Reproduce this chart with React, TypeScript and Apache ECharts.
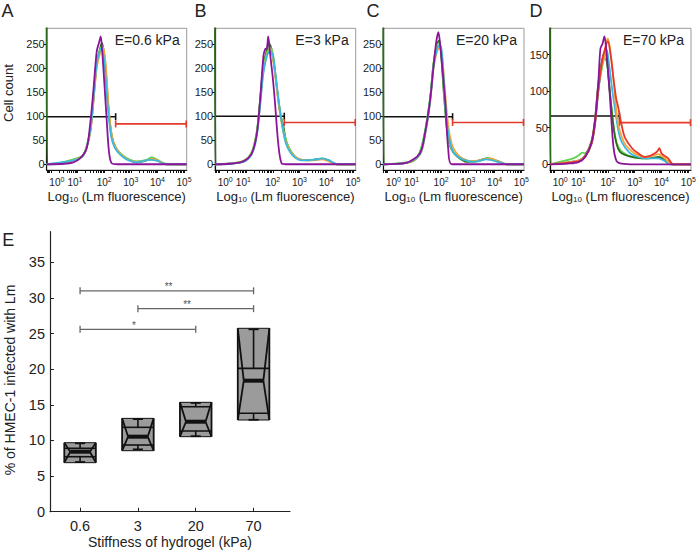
import React, { useEffect, useRef } from "react";
import * as echarts from "echarts";

const FONT = "Liberation Sans, Arial, sans-serif";

// ---------- Panels A–D (flow cytometry histograms) ----------
const panelLetters = ["A", "B", "C", "D"];
const panelTitles = ["E=0.6 kPa", "E=3 kPa", "E=20 kPa", "E=70 kPa"];
const decadeTicks = [0, 1, 2, 3, 4, 5];
const decadeLabelPos = [0.22, 0.9, 2, 3, 4, 5];
const countTicksABC = [0, 50, 100, 150, 200, 250];
const countTicksD = [0, 50, 100, 150];
const yMins = [-12, -12, -12, -7.8];
const yMaxes = [283, 283, 283, 186];
const gateX = 2.43;
const gateBlackY = [99, 100, 99, 66];
const gateRedY = [84, 87, 87, 57];

const A_purple = [[-0.16, 0], [0.5, 1], [0.84, 4], [1.09, 12], [1.34, 33], [1.47, 82], [1.59, 151], [1.72, 235], [1.8, 252], [1.87, 266], [1.92, 238], [1.97, 200], [2.09, 96], [2.18, 26], [2.28, 2], [2.5, 0], [5.1, 0]];
const A_darkGreen = [[-0.16, 290], [-0.14, 0], [0.34, 2], [0.84, 9], [1.22, 19], [1.47, 66], [1.59, 130], [1.72, 208], [1.85, 242], [1.92, 252], [2.03, 214], [2.16, 117], [2.28, 61], [2.41, 37], [2.59, 23], [2.84, 12], [3.22, 4], [3.55, 7], [3.75, 12], [3.97, 9], [4.35, 0], [5.1, 0]];
const A_lightGreen = [[-0.16, 0], [0.34, 3], [0.84, 10], [1.22, 20], [1.47, 70], [1.59, 135], [1.72, 212], [1.85, 240], [1.93, 246], [2.03, 210], [2.16, 112], [2.28, 58], [2.41, 35], [2.59, 24], [2.84, 13], [3.22, 6], [3.6, 9], [3.78, 14], [3.97, 10], [4.3, 1], [5.1, 0]];
const A_orange = [[-0.16, 0], [0.5, 3], [0.84, 8], [1.22, 18], [1.47, 64], [1.59, 126], [1.72, 200], [1.85, 232], [1.95, 244], [2.05, 212], [2.18, 110], [2.3, 55], [2.45, 33], [2.6, 22], [2.84, 11], [3.22, 5], [3.6, 8], [3.8, 11], [4.0, 8], [4.35, 0], [5.1, 0]];
const A_cyan = [[-0.16, 0], [0.84, 8], [1.22, 18], [1.47, 68], [1.59, 132], [1.72, 210], [1.85, 238], [1.9, 242], [2.0, 215], [2.14, 118], [2.26, 58], [2.4, 34], [2.6, 20], [2.84, 10], [3.22, 4], [3.7, 9], [4.0, 7], [4.3, 0], [5.1, 0]];

const B_purple = [[-0.16, 0], [0.4, 1], [0.9, 6], [1.21, 22], [1.4, 62], [1.52, 130], [1.65, 225], [1.72, 240], [1.78, 242], [1.83, 266], [1.9, 230], [2.0, 180], [2.08, 130], [2.21, 40], [2.33, 2], [2.5, 0], [5.1, 0]];
const B_darkGreen = [[-0.16, 290], [-0.14, 0], [0.4, 1], [0.9, 6], [1.21, 23], [1.4, 65], [1.52, 130], [1.65, 205], [1.78, 238], [1.88, 250], [1.98, 232], [2.1, 185], [2.21, 134], [2.3, 100], [2.4, 78], [2.52, 44], [2.77, 19], [3.0, 10], [3.3, 8], [3.6, 10], [3.9, 11], [4.1, 8], [4.4, 0], [5.1, 0]];
const B_lightGreen = [[-0.16, 0], [0.4, 2], [0.9, 7], [1.21, 25], [1.4, 68], [1.52, 128], [1.65, 200], [1.78, 232], [1.92, 242], [2.02, 225], [2.12, 175], [2.23, 125], [2.35, 85], [2.45, 60], [2.6, 35], [2.8, 18], [3.1, 9], [3.5, 9], [3.85, 12], [4.1, 7], [4.4, 0], [5.1, 0]];
const B_orange = [[-0.16, 0], [0.6, 3], [0.9, 6], [1.21, 22], [1.4, 62], [1.52, 122], [1.65, 195], [1.78, 228], [1.9, 238], [2.0, 222], [2.12, 170], [2.23, 120], [2.35, 80], [2.5, 45], [2.75, 20], [3.1, 9], [3.5, 8], [3.85, 10], [4.2, 4], [4.4, 0], [5.1, 0]];
const B_cyan = [[-0.16, 0], [0.9, 5], [1.21, 20], [1.4, 58], [1.52, 118], [1.65, 190], [1.78, 225], [1.9, 235], [2.0, 228], [2.12, 178], [2.23, 128], [2.35, 82], [2.5, 42], [2.75, 18], [3.1, 8], [3.5, 9], [3.85, 12], [4.1, 8], [4.4, 0], [5.1, 0]];

const C_purple = [[-0.16, 0], [0.7, 3], [1.21, 23], [1.4, 65], [1.59, 134], [1.72, 205], [1.82, 255], [1.9, 275], [1.98, 240], [2.08, 180], [2.15, 134], [2.27, 30], [2.4, 0], [5.1, 0]];
const C_darkGreen = [[-0.16, 290], [-0.14, 0], [0.7, 3], [1.0, 8], [1.21, 24], [1.4, 66], [1.59, 136], [1.72, 210], [1.85, 250], [1.93, 258], [2.0, 230], [2.1, 150], [2.21, 78], [2.3, 45], [2.4, 30], [2.58, 17], [2.96, 5], [3.3, 6], [3.7, 12], [4.1, 7], [4.45, 0], [5.1, 0]];
const C_lightGreen = [[-0.16, 0], [0.7, 4], [1.0, 9], [1.21, 26], [1.4, 70], [1.59, 138], [1.72, 212], [1.85, 248], [1.93, 252], [2.02, 225], [2.12, 140], [2.23, 70], [2.33, 40], [2.45, 26], [2.6, 18], [2.96, 8], [3.4, 6], [3.75, 13], [4.1, 6], [4.45, 0], [5.1, 0]];
const C_orange = [[-0.16, 0], [0.7, 3], [1.21, 20], [1.4, 60], [1.59, 128], [1.72, 200], [1.85, 235], [1.97, 245], [2.05, 220], [2.15, 150], [2.28, 75], [2.4, 42], [2.55, 25], [2.8, 12], [3.2, 6], [3.6, 10], [3.85, 12], [4.2, 4], [4.45, 0], [5.1, 0]];
const C_cyan = [[-0.16, 0], [0.7, 3], [1.21, 21], [1.4, 62], [1.59, 130], [1.72, 205], [1.85, 240], [1.95, 248], [2.02, 238], [2.12, 160], [2.23, 80], [2.35, 42], [2.5, 22], [2.8, 10], [3.2, 5], [3.7, 10], [4.1, 5], [4.45, 0], [5.1, 0]];

const D_purple = [[-0.16, 0], [0.5, 1], [0.9, 3], [1.15, 10], [1.39, 30], [1.52, 60], [1.64, 110], [1.72, 158], [1.8, 165], [1.87, 175], [1.93, 160], [2.0, 130], [2.08, 90], [2.14, 55], [2.22, 20], [2.33, 4], [2.5, 1], [3.0, 0], [5.1, 0]];
const D_red = [[-0.16, 0], [0.9, 4], [1.15, 10], [1.39, 28], [1.52, 55], [1.64, 100], [1.77, 138], [1.89, 158], [2.0, 168], [2.1, 150], [2.2, 120], [2.3, 92], [2.39, 77], [2.52, 52], [2.64, 36], [2.9, 22], [3.13, 15], [3.38, 10], [3.6, 12], [3.75, 15], [3.85, 18], [3.92, 22], [4.0, 15], [4.25, 8], [4.44, 0], [5.1, 0]];
const D_orange = [[-0.16, 0], [0.9, 5], [1.15, 11], [1.39, 30], [1.52, 58], [1.64, 105], [1.77, 135], [1.89, 150], [1.95, 168], [2.0, 172], [2.08, 158], [2.17, 130], [2.26, 95], [2.35, 62], [2.45, 45], [2.6, 30], [2.76, 22], [3.0, 15], [3.38, 10], [3.7, 12], [3.88, 14], [4.13, 8], [4.4, 0], [5.1, 0]];
const D_cyan = [[-0.16, 0], [0.9, 5], [1.15, 10], [1.39, 28], [1.52, 55], [1.64, 100], [1.77, 135], [1.89, 152], [1.95, 157], [2.05, 135], [2.15, 105], [2.26, 77], [2.38, 48], [2.51, 31], [2.8, 16], [3.13, 10], [3.5, 8], [3.88, 8], [4.1, 5], [4.3, 0], [5.1, 0]];
const D_darkGreen = [[-0.16, 190], [-0.14, 0], [0.9, 5], [1.15, 12], [1.39, 32], [1.52, 62], [1.64, 110], [1.77, 140], [1.89, 155], [1.97, 140], [2.07, 100], [2.2, 54], [2.32, 28], [2.45, 17], [2.7, 12], [2.9, 10], [3.38, 8], [3.7, 9], [3.88, 10], [4.05, 8], [4.25, 4], [4.4, 0], [5.1, 0]];
const D_lightGreen = [[-0.16, 0], [0.7, 8], [0.9, 12], [1.05, 16], [1.15, 15], [1.39, 30], [1.52, 58], [1.64, 100], [1.77, 130], [1.89, 145], [1.97, 138], [2.07, 100], [2.2, 56], [2.32, 30], [2.5, 18], [2.9, 10], [3.4, 8], [3.9, 9], [4.3, 2], [4.4, 0], [5.1, 0]];

const COLORS: Record<string, string> = {
  darkGreen: "#2e6a1c",
  lightGreen: "#5fd44f",
  orange: "#f4a43e",
  cyan: "#3bb8e0",
  red: "#e8382b",
  purple: "#8b1499",
};

const panelSeries: Array<Array<[string, number[][]]>> = [
  [["darkGreen", A_darkGreen], ["lightGreen", A_lightGreen], ["orange", A_orange], ["cyan", A_cyan], ["purple", A_purple]],
  [["darkGreen", B_darkGreen], ["lightGreen", B_lightGreen], ["orange", B_orange], ["cyan", B_cyan], ["purple", B_purple]],
  [["darkGreen", C_darkGreen], ["lightGreen", C_lightGreen], ["orange", C_orange], ["cyan", C_cyan], ["purple", C_purple]],
  [["lightGreen", D_lightGreen], ["darkGreen", D_darkGreen], ["cyan", D_cyan], ["orange", D_orange], ["red", D_red], ["purple", D_purple]],
];

// ---------- Panel E (notched box plots) ----------
const stiffness = ["0.6", "3", "20", "70"];
const boxLow = [6.88, 8.56, 10.53, 12.87];
const boxQ1 = [7.72, 9.36, 11.32, 13.81];
const boxMedian = [8.42, 10.53, 12.63, 18.39];
const boxQ3 = [8.9, 11.84, 14.74, 20.12];
const boxHigh = [9.68, 13.1, 15.35, 25.74];
const whiskerLow = [6.97, 8.75, 10.6, 12.9];
const whiskerHigh = [9.6, 13.0, 15.27, 25.6];
const percentTicks = [0, 5, 10, 15, 20, 25, 30, 35];

const bracketFrom = [1, 2, 1];
const bracketTo = [4, 4, 3];
const bracketY = [31.0, 28.5, 25.6];
const bracketLabel = ["**", "**", "*"];
const bracketLabelX = [2.53, 2.85, 1.93];

// geometry
const panelLeft = [46.7, 215, 383.3, 550];
const panelWidth = [140, 140.7, 140.7, 141];
const panelTop = 28.3;
const panelHeight = 141.7;

function buildOption(): any {
  const xTickPos: number[] = [];
  for (let d = -1; d <= 5; d++) {
    for (let k = 1; k <= 9; k++) {
      const v = d + Math.log10(k);
      if (v >= -0.16 && v <= 5.1) xTickPos.push(+v.toFixed(4));
    }
  }

  const grid: any[] = [];
  const xAxis: any[] = [];
  const yAxis: any[] = [];
  const series: any[] = [];
  const graphic: any[] = [];

  const txt = (text: string, x: number, y: number, size: number, opts: any = {}) => ({
    type: "text",
    x,
    y,
    rotation: opts.rotation || 0,
    silent: true,
    style: {
      text,
      fontSize: size,
      fontFamily: FONT,
      fill: opts.fill || "#222",
      align: opts.align || "center",
      textAlign: opts.align || "center",
      verticalAlign: "middle",
      textVerticalAlign: "middle",
    },
  });

  for (let i = 0; i < 4; i++) {
    grid.push({
      left: panelLeft[i],
      top: panelTop,
      width: panelWidth[i],
      height: panelHeight,
      show: true,
      borderColor: "#9a9a9a",
      borderWidth: 1,
      backgroundColor: "transparent",
    });
    xAxis.push({
      type: "value",
      gridIndex: i,
      min: -0.16,
      max: 5.1,
      axisLine: { show: true, onZero: false, lineStyle: { color: "#111", width: 1.2 } },
      axisTick: { show: true, customValues: xTickPos, length: 3, lineStyle: { color: "#111" } },
      axisLabel: {
        customValues: decadeLabelPos,
        hideOverlap: false,
        showMinLabel: true,
        showMaxLabel: true,
        fontSize: 10,
        fontFamily: FONT,
        color: "#222",
        margin: 6,
        formatter: (v: number) => {
          const idx = decadeLabelPos.findIndex((p) => Math.abs(p - v) < 1e-6);
          return idx >= 0 ? `10{sup|${decadeTicks[idx]}}` : "";
        },
        rich: { sup: { fontSize: 7, fontFamily: FONT, color: "#222", padding: [0, 0, 6, 0] } },
      },
      splitLine: { show: false },
      name: "Log{sub|10} (Lm fluorescence)",
      nameLocation: "middle",
      nameGap: 19,
      nameTextStyle: {
        fontSize: 13,
        fontFamily: FONT,
        color: "#222",
        rich: { sub: { fontSize: 8, fontFamily: FONT, color: "#222", padding: [6, 0, 0, 0] } },
      },
    });
    const ticks = i === 3 ? countTicksD : countTicksABC;
    yAxis.push({
      type: "value",
      gridIndex: i,
      min: yMins[i],
      max: yMaxes[i],
      axisLine: { show: true, onZero: false, lineStyle: { color: "#111", width: 1.2 } },
      axisTick: { show: true, customValues: ticks, length: 3, lineStyle: { color: "#111" } },
      axisLabel: { customValues: ticks, fontSize: 11, fontFamily: FONT, color: "#222", margin: 2 },
      splitLine: { show: false },
    });

    panelSeries[i].forEach(([name, data]) => {
      series.push({
        type: "line",
        xAxisIndex: i,
        yAxisIndex: i,
        data,
        symbol: "none",
        smooth: 0.3,
        clip: true,
        silent: true,
        lineStyle: { color: COLORS[name], width: 1.8 },
      });
    });

    series.push({
      type: "custom",
      xAxisIndex: i,
      yAxisIndex: i,
      silent: true,
      data: [
        [-0.16, gateX, gateBlackY[i]],
        [gateX, 5.1, gateRedY[i]],
      ],
      renderItem: (params: any, api: any) => {
        const y = api.value(2);
        const p1 = api.coord([api.value(0), y]);
        const p2 = api.coord([api.value(1), y]);
        const black = params.dataIndex === 0;
        const color = black ? "#111" : "#e23a2c";
        const st = { stroke: color, lineWidth: 1.6 };
        const children: any[] = [
          { type: "line", shape: { x1: p1[0], y1: p1[1], x2: p2[0], y2: p2[1] }, style: st },
        ];
        if (black) {
          children.push({ type: "line", shape: { x1: p2[0], y1: p2[1] - 3.5, x2: p2[0], y2: p2[1] + 3.5 }, style: st });
        } else {
          children.push({ type: "line", shape: { x1: p1[0], y1: p1[1] - 3.5, x2: p1[0], y2: p1[1] + 3.5 }, style: st });
          children.push({ type: "line", shape: { x1: p2[0] - 0.5, y1: p2[1] - 3.5, x2: p2[0] - 0.5, y2: p2[1] + 3.5 }, style: st });
        }
        return { type: "group", children };
      },
    });

    graphic.push(txt(panelTitles[i], panelLeft[i] + panelWidth[i] - 7, 39.5, 14, { align: "right" }));
  }

  graphic.push(txt(panelLetters[0], 7.5, 11, 18));
  graphic.push(txt(panelLetters[1], 200.5, 11, 18));
  graphic.push(txt(panelLetters[2], 373, 11, 18));
  graphic.push(txt(panelLetters[3], 536, 11, 18));
  graphic.push(txt("Cell count", 8.5, 93, 13, { rotation: Math.PI / 2 }));

  // Panel E
  grid.push({ left: 50, top: 231.7, width: 240, height: 280, show: false });
  xAxis.push({
    type: "value",
    gridIndex: 4,
    min: 0.48,
    max: 4.63,
    axisLine: { show: true, onZero: false, lineStyle: { color: "#222", width: 1.2 } },
    axisTick: { show: true, inside: true, customValues: [1, 2, 3, 4], length: 4, lineStyle: { color: "#222" } },
    axisLabel: {
      customValues: [1, 2, 3, 4],
      fontSize: 14.5,
      fontFamily: FONT,
      color: "#222",
      margin: 7,
      formatter: (v: number) => stiffness[Math.round(v) - 1] ?? "",
    },
    splitLine: { show: false },
  });
  yAxis.push({
    type: "value",
    gridIndex: 4,
    min: 0,
    max: 39.3,
    axisLine: { show: true, onZero: false, lineStyle: { color: "#222", width: 1.2 } },
    axisTick: { show: true, inside: true, customValues: percentTicks, length: 4, lineStyle: { color: "#222" } },
    axisLabel: { customValues: percentTicks, fontSize: 14.5, fontFamily: FONT, color: "#222", margin: 5 },
    splitLine: { show: false },
  });

  series.push({
    type: "custom",
    xAxisIndex: 4,
    yAxisIndex: 4,
    silent: true,
    data: stiffness.map((_, i) => [i + 1, boxLow[i], boxQ1[i], boxMedian[i], boxQ3[i], boxHigh[i], whiskerLow[i], whiskerHigh[i]]),
    renderItem: (params: any, api: any) => {
      const x = api.value(0);
      const Y = (v: number) => api.coord([x, v])[1];
      const cx = api.coord([x, 0])[0];
      const yLo = Y(api.value(1));
      const yQ1 = Y(api.value(2));
      const yMed = Y(api.value(3));
      const yQ3 = Y(api.value(4));
      const yHi = Y(api.value(5));
      const yWlo = Y(api.value(6));
      const yWhi = Y(api.value(7));
      const hw = api.size([0.273, 0])[0];
      const inset = hw * 0.38;
      const cap = hw * 0.32;
      const L = cx - hw;
      const R = cx + hw;
      const ln = (x1: number, y1: number, x2: number, y2: number, w: number) => ({
        type: "line",
        shape: { x1, y1, x2, y2 },
        style: { stroke: "#111", lineWidth: w },
      });
      return {
        type: "group",
        children: [
          { type: "rect", shape: { x: L, y: yHi, width: 2 * hw, height: yLo - yHi }, style: { fill: "#9b9b9b" } },
          ln(L, yHi, L, yLo, 1.8),
          ln(R, yHi, R, yLo, 1.8),
          ln(L, yHi, R, yHi, 1),
          ln(L, yLo, R, yLo, 1),
          ln(L, yQ3, R, yQ3, 1.6),
          ln(L, yQ1, R, yQ1, 1.6),
          ln(L, yHi, L + inset, yMed, 1.8),
          ln(R, yHi, R - inset, yMed, 1.8),
          ln(L, yLo, L + inset, yMed, 1.8),
          ln(R, yLo, R - inset, yMed, 1.8),
          ln(L + inset, yMed, R - inset, yMed, 4),
          ln(cx, yWhi, cx, yQ3, 1.6),
          ln(cx, yQ1, cx, yWlo, 1.6),
          ln(cx - cap, yWhi, cx + cap, yWhi, 1.8),
          ln(cx - cap, yWlo, cx + cap, yWlo, 1.8),
        ],
      };
    },
  });

  series.push({
    type: "custom",
    xAxisIndex: 4,
    yAxisIndex: 4,
    silent: true,
    data: bracketFrom.map((f, i) => [f, bracketTo[i], bracketY[i]]),
    renderItem: (params: any, api: any) => {
      const i = params.dataIndex;
      const y = api.value(2);
      const p1 = api.coord([api.value(0), y]);
      const p2 = api.coord([api.value(1), y]);
      const pl = api.coord([bracketLabelX[i], y]);
      const st = { stroke: "#666", lineWidth: 1.3 };
      return {
        type: "group",
        children: [
          { type: "line", shape: { x1: p1[0], y1: p1[1], x2: p2[0], y2: p2[1] }, style: st },
          { type: "line", shape: { x1: p1[0], y1: p1[1] - 3.5, x2: p1[0], y2: p1[1] + 3.5 }, style: st },
          { type: "line", shape: { x1: p2[0], y1: p2[1] - 3.5, x2: p2[0], y2: p2[1] + 3.5 }, style: st },
          {
            type: "text",
            x: pl[0],
            y: pl[1] - 4,
            style: {
              text: bracketLabel[i],
              fontSize: 10,
              fontFamily: FONT,
              fill: "#555",
              align: "center",
              textAlign: "center",
              verticalAlign: "middle",
              textVerticalAlign: "middle",
            },
          },
        ],
      };
    },
  });

  graphic.push(txt("E", 8.3, 240, 18));
  graphic.push(txt("% of HMEC-1 infected with Lm", 10, 380, 14, { rotation: Math.PI / 2 }));
  graphic.push(txt("Stiffness of hydrogel (kPa)", 170, 541.5, 14));

  return {
    animation: false,
    textStyle: { fontFamily: FONT },
    grid,
    xAxis,
    yAxis,
    series,
    graphic,
  };
}

export default function App() {
  const ref = useRef<HTMLDivElement>(null);
  useEffect(() => {
    document.body.style.margin = "0";
    const chart = echarts.init(ref.current as HTMLDivElement, null, { renderer: "svg" });
    chart.setOption(buildOption());
    return () => chart.dispose();
  }, []);
  return <div ref={ref} style={{ width: 700, height: 551 }} />;
}
